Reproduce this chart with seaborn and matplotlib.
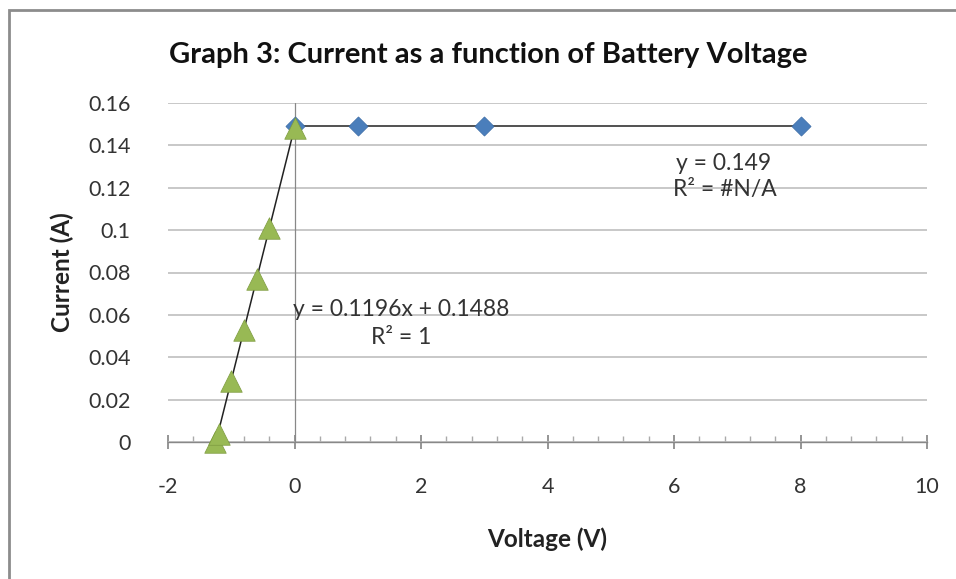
import numpy as np
import pandas as pd
import matplotlib
matplotlib.use("Agg")
import matplotlib.pyplot as plt
from matplotlib.patches import Rectangle
from matplotlib.ticker import MultipleLocator
import seaborn as sns

# Data
flat_voltage = [0, 1, 3, 8]
flat_current = [0.149, 0.149, 0.149, 0.149]
neg_voltage = [-1.25, -1.2, -1.0, -0.8, -0.6, -0.4, 0.0]
neg_current = [0.0, 0.004, 0.029, 0.053, 0.077, 0.101, 0.148]

title = "Graph 3: Current as a function of Battery Voltage"
xlabel = "Voltage (V)"
ylabel = "Current (A)"
eq_neg = ["y = 0.1196x + 0.1488", "R² = 1"]
eq_flat = ["y = 0.149", "R² = #N/A"]

sns.set_theme(style="white")
plt.rcParams["font.family"] = ["Lato", "DejaVu Sans"]

W, H = 956, 579
fig = plt.figure(figsize=(W / 100, H / 100), dpi=100)
fig.patch.set_facecolor("white")
ax = fig.add_axes([168 / W, 1 - 442 / H, (927 - 168) / W, (442 - 103) / H])

# frame of the chart area
fig.patches.append(Rectangle((9 / W, -0.05), 1.2, 1 - 10 / H + 0.05,
                             transform=fig.transFigure, fill=False,
                             edgecolor="#8c8c8c", linewidth=2, zorder=0))

df_flat = pd.DataFrame({"V": flat_voltage, "I": flat_current})
df_neg = pd.DataFrame({"V": neg_voltage, "I": neg_current})

# trendlines (linear fits)
p_neg = np.polyfit(df_neg["V"], df_neg["I"], 1)
xn = np.array([min(neg_voltage), max(neg_voltage)])
sns.lineplot(x=xn, y=np.polyval(p_neg, xn), ax=ax, color="#222222", lw=1.1, zorder=3)
xf = np.array([min(flat_voltage), max(flat_voltage)])
sns.lineplot(x=xf, y=[np.mean(flat_current)] * 2, ax=ax, color="#222222", lw=1.1, zorder=3)

sns.scatterplot(data=df_flat, x="V", y="I", ax=ax, marker="D", s=95,
                color="#4a7ebb", edgecolor="#3a6aa5", linewidth=0.5, zorder=4,
                clip_on=False)
sns.scatterplot(data=df_neg, x="V", y="I", ax=ax, marker="^", s=240,
                color="#98b954", edgecolor="#7d9b3f", linewidth=0.5, zorder=4,
                clip_on=False)

ax.set_xlim(-2, 10)
ax.set_ylim(0, 0.16)
ax.xaxis.set_minor_locator(MultipleLocator(0.4))
ax.set_yticks(np.arange(0, 0.161, 0.02))
ax.set_yticklabels(["0", "0.02", "0.04", "0.06", "0.08", "0.1", "0.12", "0.14", "0.16"])
ax.set_xticks([-2, 0, 2, 4, 6, 8, 10])
ax.set_xticklabels(["-2", "0", "2", "4", "6", "8", "10"])

ax.grid(axis="y", color="#bfbfbf", lw=1.2)
ax.set_axisbelow(True)
for s in ["top", "right", "left"]:
    ax.spines[s].set_visible(False)
ax.spines["bottom"].set_color("#888888")
ax.spines["bottom"].set_linewidth(1)
ax.axvline(0, color="#888888", lw=0.9, zorder=1)

ax.tick_params(axis="x", which="major", direction="inout", length=10, color="#888888",
               bottom=True, labelsize=15.5, labelcolor="#333333", pad=20)
ax.tick_params(axis="x", which="minor", direction="in", length=4, color="#aaaaaa", bottom=True)
ax.tick_params(axis="y", left=False, labelsize=15.5, labelcolor="#333333", pad=21)

ax.set_xlabel(xlabel, fontsize=17.5, fontweight="bold", color="#222222", labelpad=22)
ax.set_ylabel(ylabel, fontsize=17.5, fontweight="bold", color="#222222", labelpad=10)

fig.text(488 / W, 1 - 55 / H, title, ha="center", va="center",
         fontsize=21, fontweight="bold", color="#111111")

ax.text(1.68, 0.0625, eq_neg[0], ha="center", va="center", fontsize=16.5, color="#333333")
ax.text(1.68, 0.0492, eq_neg[1], ha="center", va="center", fontsize=16.5, color="#333333")
ax.text(6.78, 0.1315, eq_flat[0], ha="center", va="center", fontsize=16.5, color="#333333")
ax.text(6.80, 0.1192, eq_flat[1], ha="center", va="center", fontsize=16.5, color="#333333")

fig.savefig("out.png", dpi=100, facecolor="white")
